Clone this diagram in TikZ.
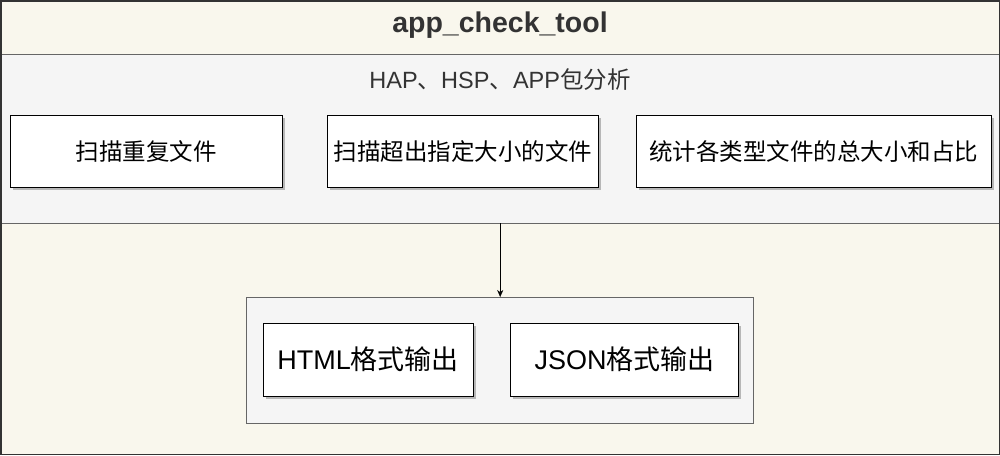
\documentclass[tikz,border=0pt]{standalone}
\usepackage{fontspec}
\setmainfont{Liberation Sans}
\newfontfamily\cjk{Noto Sans CJK SC}
\usepackage{tikz}
\usetikzlibrary{arrows.meta, positioning, shadows}
\definecolor{creamfill}{HTML}{F9F7ED}
\definecolor{bandfill}{HTML}{F5F5F5}
\definecolor{bandline}{HTML}{666666}
\definecolor{textgray}{HTML}{333333}

\begin{document}
\begin{tikzpicture}[
    x=1pt, y=-1pt,
    every node/.style={align=center, inner sep=0pt, font=\fontsize{23.5}{28}\selectfont},
    band/.style={draw=bandline, fill=bandfill, anchor=north west},
    taskbox/.style={draw=black, fill=white, anchor=north west, minimum height=72pt,
        drop shadow={shadow xshift=2.5pt, shadow yshift=-2.5pt, fill=black, opacity=0.25}},
    arrow/.style={-{Stealth[length=7pt, width=6pt]}, black}
]
\useasboundingbox (0,0) rectangle (1000,455);

% Frame
\node (tool) [fill=creamfill, anchor=north west, minimum width=998pt, minimum height=453pt] at (1,1) {};
\node (title) at (500,25) [font=\bfseries\fontsize{28.5}{33}\selectfont, text=textgray] {app\_check\_tool};

% Analysis band
\node (analysis) [band, minimum width=998pt, minimum height=169pt] at (1,54) {};
\node (hap) at (500,80) [text=textgray] {HAP{\cjk 、}HSP{\cjk 、}APP{\cjk 包分析}};

\node (dup) [taskbox, minimum width=272pt] at (10,115) {{\cjk 扫描重复文件}};
\node (big) [taskbox, minimum width=271pt, right=45pt of dup] {{\cjk 扫描超出指定大小的文件}};
\node (stat) [taskbox, minimum width=355pt, right=37pt of big] {{\cjk 统计各类型文件的总大小和占比}};

% Output
\node (output) [band, minimum width=507pt, minimum height=126pt] at (246,297) {};
\node (html) [taskbox, minimum width=210pt, minimum height=73pt, font=\fontsize{27}{32}\selectfont] at (263,323) {HTML{\cjk 格式输出}};
\node (json) [taskbox, minimum width=228pt, minimum height=73pt, font=\fontsize{27}{32}\selectfont, right=37pt of html] {JSON{\cjk 格式输出}};

% Arrows
\draw[arrow] (analysis.south) -- (analysis.south |- output.north);

% Border
\draw[textgray, line width=1.2pt] (tool.north west) rectangle (tool.south east);

\end{tikzpicture}
\end{document}
